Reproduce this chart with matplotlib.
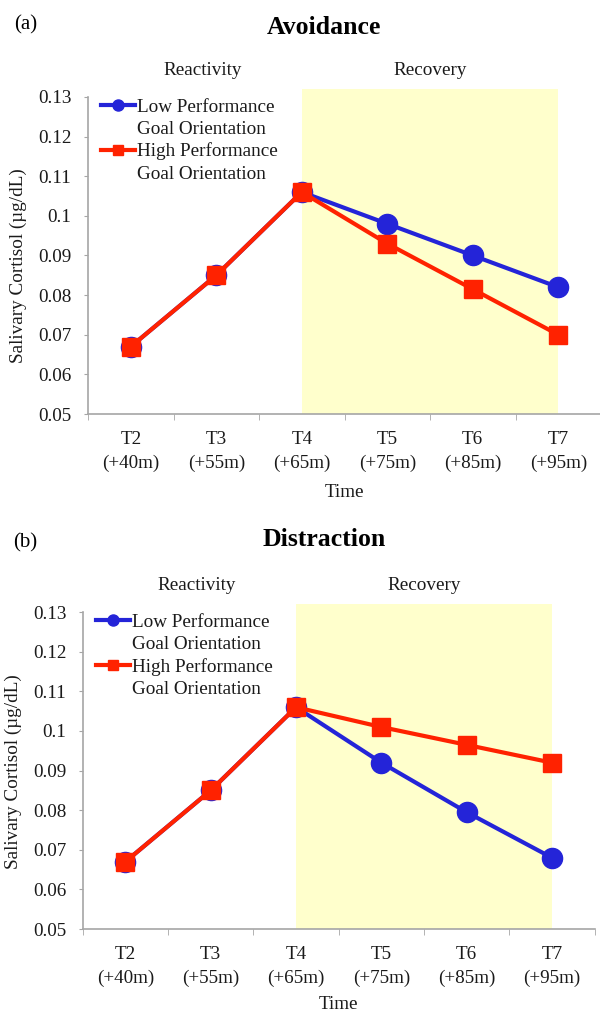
import numpy as np
import matplotlib
matplotlib.use("Agg")
import matplotlib.pyplot as plt
from matplotlib import transforms
from matplotlib.lines import Line2D

plt.rcParams["font.family"] = ["Liberation Serif", "DejaVu Serif"]

times = ["T2\n(+40m)", "T3\n(+55m)", "T4\n(+65m)", "T5\n(+75m)", "T6\n(+85m)", "T7\n(+95m)"]
y_ticks = [0.05, 0.06, 0.07, 0.08, 0.09, 0.10, 0.11, 0.12, 0.13]
y_tick_labels = ["0.05", "0.06", "0.07", "0.08", "0.09", "0.1", "0.11", "0.12", "0.13"]

avoid_low = [0.067, 0.085, 0.106, 0.098, 0.090, 0.082]
avoid_high = [0.067, 0.085, 0.106, 0.093, 0.0815, 0.070]
distr_low = [0.067, 0.085, 0.106, 0.092, 0.0795, 0.068]
distr_high = [0.067, 0.085, 0.106, 0.101, 0.0965, 0.092]

legend_lines = ["Low Performance", "Goal Orientation", "High Performance", "Goal Orientation"]

recovery_start, recovery_end = 2, 5

BLUE = "#2424d8"
RED = "#ff2200"
SHADE = "#ffffcc"
SPINE = "#a6a6a6"
TXT = "#1a1a1a"
FS = 13.8

fig = plt.figure(figsize=(6, 10.13), dpi=100)


def draw_panel(rect, low, high, title, tag, title_y, tag_y, ylab_xy, xlab_y):
    ax = fig.add_axes(rect)
    x = np.arange(len(times))
    ax.axvspan(recovery_start, recovery_end, color=SHADE, lw=0, zorder=0)
    l_low, = ax.plot(x, low, color=BLUE, lw=3, marker="o", ms=14.5, zorder=3)
    l_high, = ax.plot(x, high, color=RED, lw=3, marker="s", ms=13, zorder=4)
    ax.set_xlim(-0.5, len(times) - 0.5)
    ax.set_ylim(0.05, 0.132)
    ax.set_yticks(y_ticks)
    ax.set_yticklabels(y_tick_labels)
    ax.set_xticks(x)
    ax.set_xticklabels(times)
    for t in ax.get_xticklabels():
        t.set_linespacing(1.45)
    ax.set_xticks(np.arange(-0.5, len(times)), minor=True)
    ax.tick_params(axis="x", which="major", length=0, pad=12.5, labelsize=FS, labelcolor=TXT)
    ax.tick_params(axis="x", which="minor", length=4, color=SPINE, direction="out")
    ax.tick_params(axis="y", length=3, color=SPINE, pad=9, labelsize=FS, labelcolor=TXT)
    for s in ("top", "right"):
        ax.spines[s].set_visible(False)
    for s in ("left", "bottom"):
        ax.spines[s].set_color(SPINE)
        ax.spines[s].set_linewidth(1.2)
    ax.spines["left"].set_bounds(0.05, 0.13)

    trans = transforms.blended_transform_factory(ax.transData, ax.transAxes)
    ax.text(0.84, 1.058, "Reactivity", transform=trans, ha="center", va="center",
            fontsize=FS, color=TXT)
    ax.text(3.5, 1.058, "Recovery", transform=trans, ha="center", va="center",
            fontsize=FS, color=TXT)

    blank = Line2D([], [], lw=0)
    leg = ax.legend([l_low, blank, l_high, blank], legend_lines,
                    loc="upper left", bbox_to_anchor=(0.025, 0.972), frameon=False,
                    fontsize=FS, markerscale=0.55, handlelength=1.8, handletextpad=0.1,
                    borderpad=0, borderaxespad=0, labelspacing=0.25)
    for t in leg.get_texts():
        t.set_color(TXT)

    fig.text(0.54, title_y, title, ha="center", va="center", fontsize=18.5,
             fontweight="bold", color="black")
    fig.text(0.042, tag_y, tag, ha="center", va="center", fontsize=15, color="black")
    fig.text(ylab_xy[0], ylab_xy[1], "Salivary Cortisol (\u00b5g/dL)", rotation=90,
             ha="center", va="center", fontsize=FS, color=TXT)
    fig.text(rect[0] + rect[2] / 2, xlab_y, "Time", ha="center", va="center",
             fontsize=FS, color=TXT)
    return ax


draw_panel([0.1467, 0.5913, 0.855, 0.3208], avoid_low, avoid_high, "Avoidance", "(a)",
           0.973, 0.975, (0.03, 0.738), 0.514)
draw_panel([0.138, 0.0829, 0.853, 0.3206], distr_low, distr_high, "Distraction", "(b)",
           0.467, 0.464, (0.023, 0.238), 0.008)

fig.savefig("out.png", dpi=100)
